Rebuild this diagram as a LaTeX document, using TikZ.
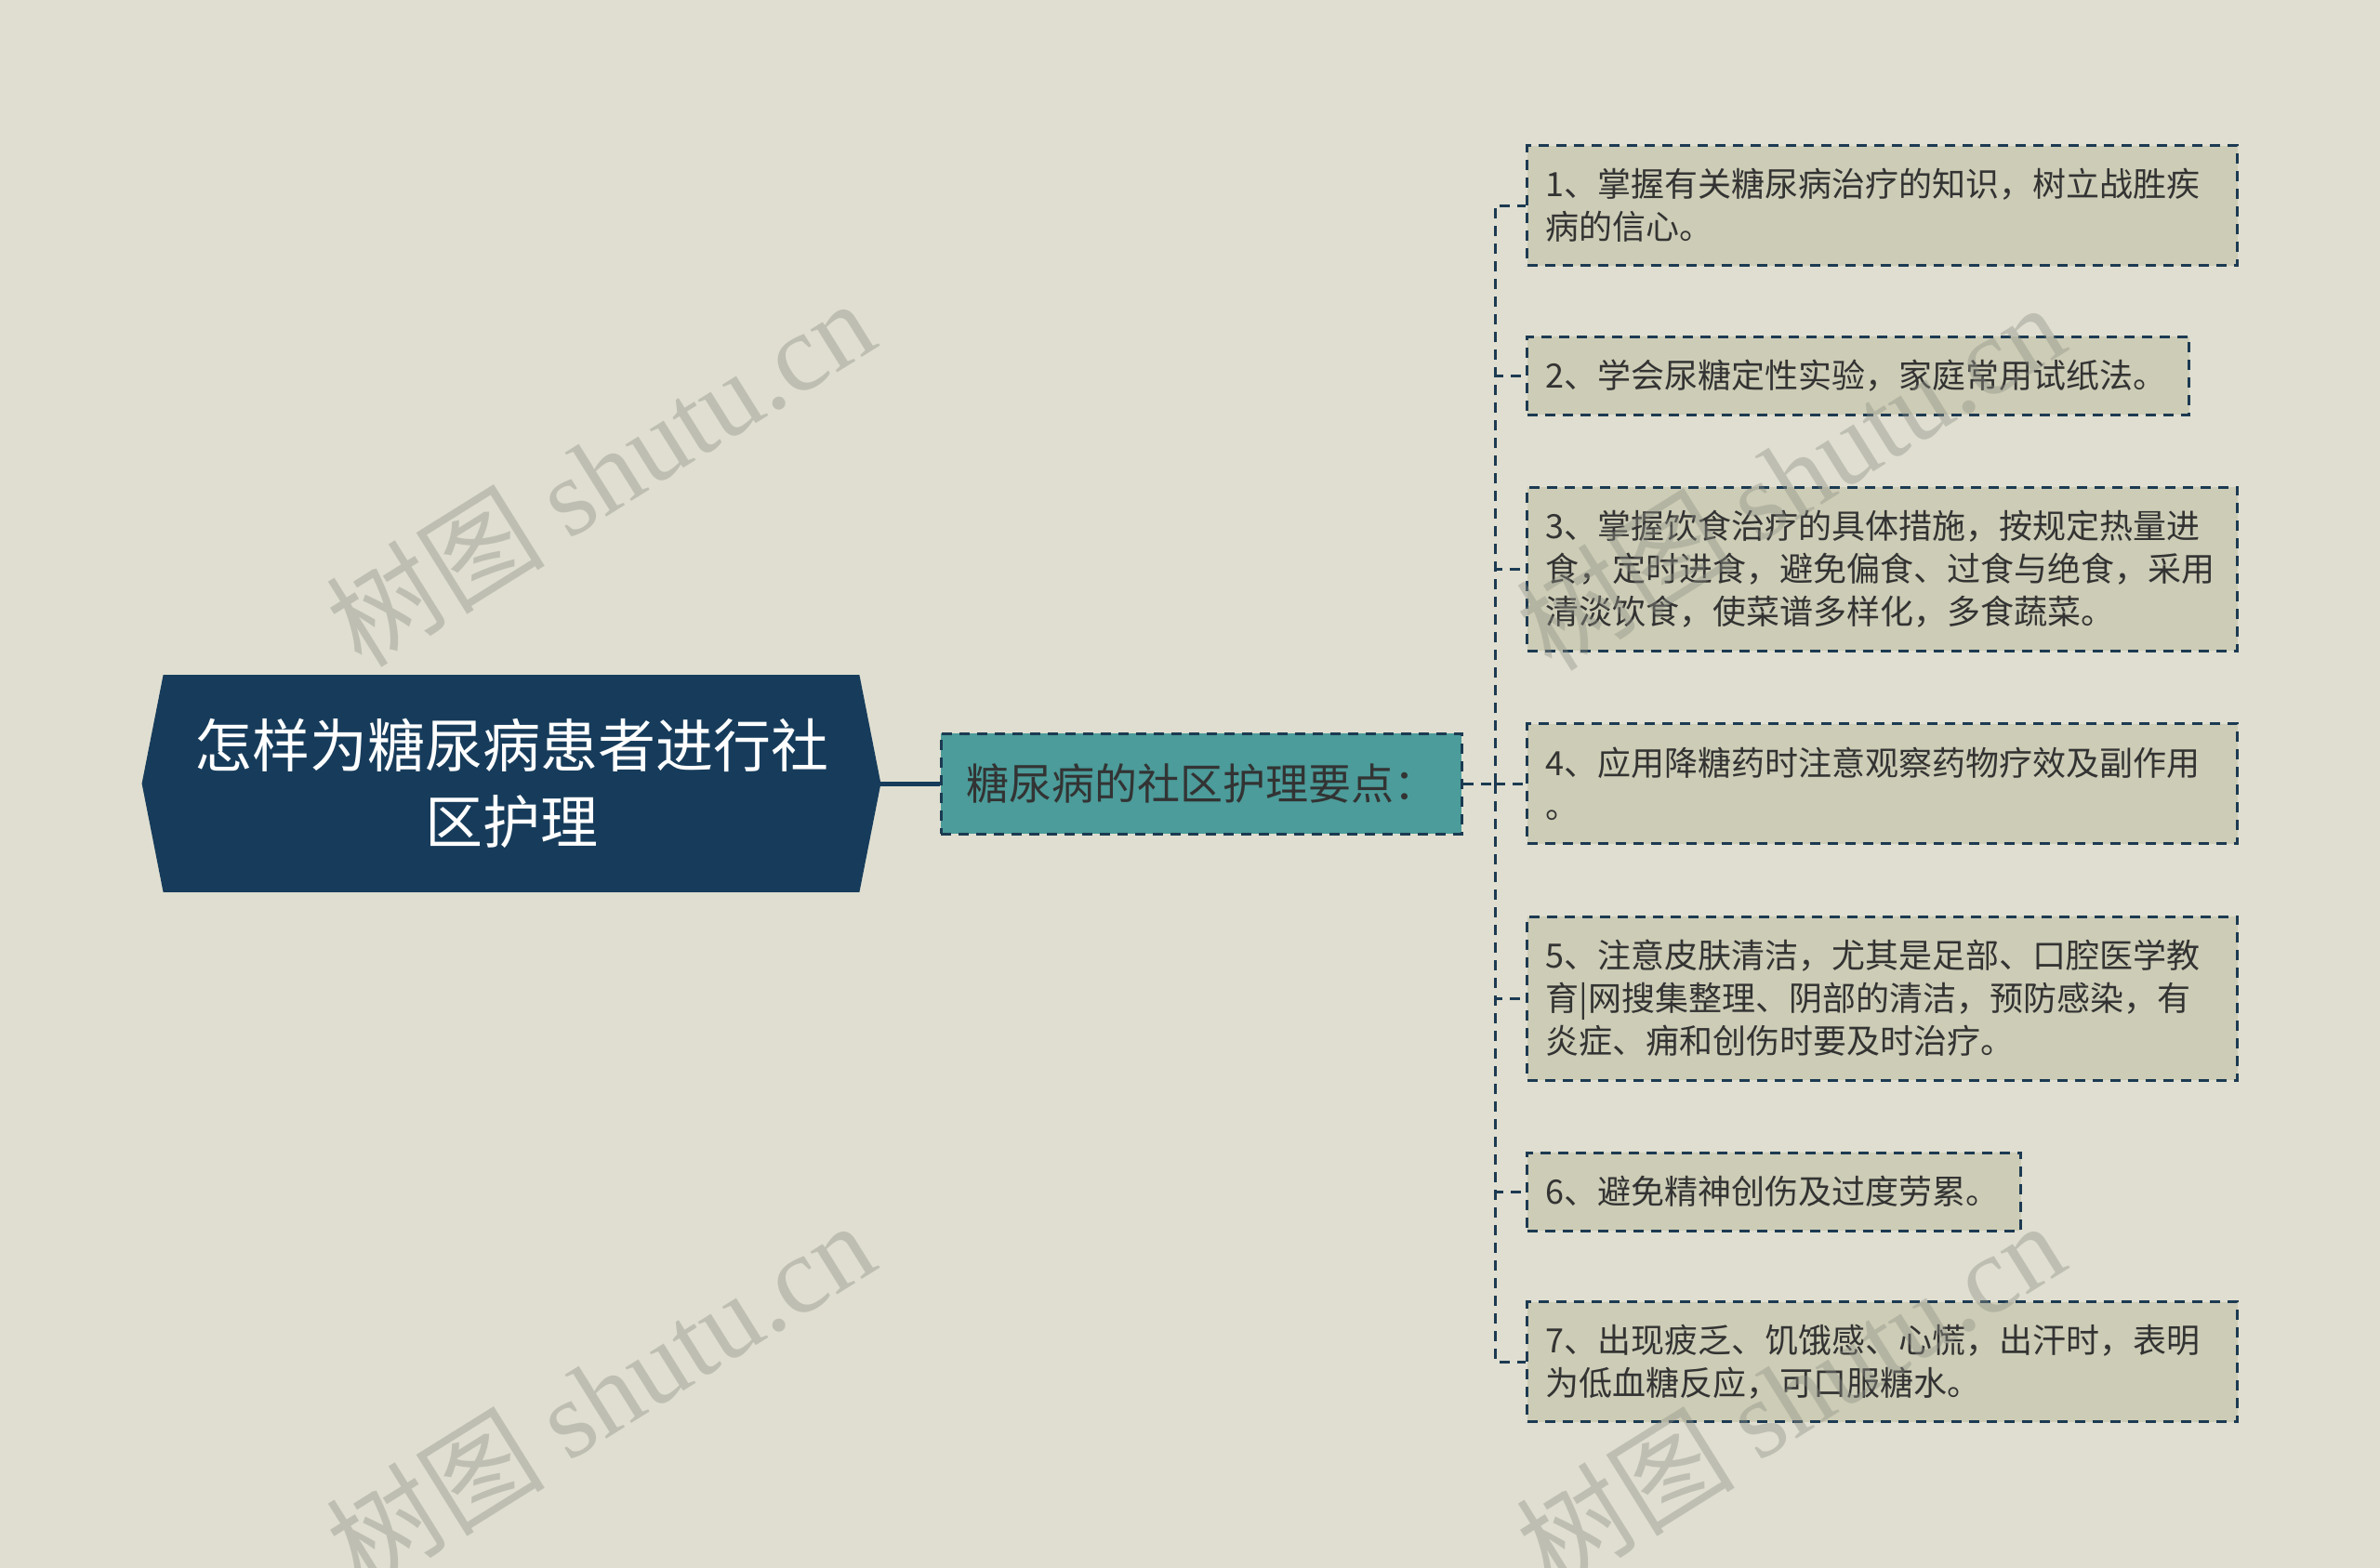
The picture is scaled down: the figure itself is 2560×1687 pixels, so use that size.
\documentclass[tikz,border=0pt]{standalone}
\usepackage{fontspec}
\setmainfont{Noto Sans CJK SC}
\newfontfamily\wmlatin{Liberation Serif}
\usetikzlibrary{backgrounds}

\definecolor{bgcol}{HTML}{DFDED0}
\definecolor{rootcol}{HTML}{173C5B}
\definecolor{midcol}{HTML}{4B9C9A}
\definecolor{leafcol}{HTML}{CDCCB6}
\definecolor{linecol}{HTML}{1C3A52}
\definecolor{textcol}{HTML}{333333}
\definecolor{wmcol}{HTML}{8E9086}

\begin{document}
\begin{tikzpicture}[
    x=0.5pt, y=-0.5pt,
    rootbox/.style={rectangle, minimum width=374pt, minimum height=116.5pt, inner sep=0pt, align=center, text=white, font=\fontsize{31}{41}\selectfont},
    midbox/.style={rectangle, draw=linecol, fill=midcol, line width=1.5pt, dash pattern=on 5.5pt off 4pt, minimum width=280pt, minimum height=54pt, inner sep=0pt, text=textcol, font=\fontsize{23}{28}\selectfont},
    leafbox/.style={rectangle, draw=linecol, fill=leafcol, line width=1.5pt, dash pattern=on 5.5pt off 4pt, anchor=west, inner xsep=10pt, inner ysep=0pt, text width=362pt, align=left, text=textcol, font=\fontsize{18}{23}\selectfont},
    link/.style={draw=linecol, line width=1.5pt, dash pattern=on 5.5pt off 4pt},
    wmark/.style={rotate=32, text=wmcol, text opacity=0.4, font=\fontsize{59}{59}\selectfont}
]

% Canvas
\useasboundingbox (0,0) rectangle (2560,1687);

% Root
\node[rootbox] (root) at (550,843) {怎样为糖尿病患者进行社\\区护理};

% Middle
\node[midbox] (mid) at (1292,843) {糖尿病的社区护理要点：};

% Leaves
\node[leafbox, minimum height=64.5pt] (leaf1) at (1641,221) {1、掌握有关糖尿病治疗的知识，树立战胜疾\\病的信心。};
\node[leafbox, minimum height=42pt, text width=336pt] (leaf2) at (1641,404) {2、学会尿糖定性实验，家庭常用试纸法。};
\node[leafbox, minimum height=88pt] (leaf3) at (1641,612) {3、掌握饮食治疗的具体措施，按规定热量进\\食，定时进食，避免偏食、过食与绝食，采用\\清淡饮食，使菜谱多样化，多食蔬菜。};
\node[leafbox, minimum height=64.5pt] (leaf4) at (1641,843) {4、应用降糖药时注意观察药物疗效及副作用\\。};
\node[leafbox, minimum height=88pt] (leaf5) at (1641,1074) {5、注意皮肤清洁，尤其是足部、口腔医学教\\育|网搜集整理、阴部的清洁，预防感染，有\\炎症、痈和创伤时要及时治疗。};
\node[leafbox, minimum height=42pt, text width=245.5pt] (leaf6) at (1641,1282) {6、避免精神创伤及过度劳累。};
\node[leafbox, minimum height=64.5pt] (leaf7) at (1641,1465) {7、出现疲乏、饥饿感、心慌，出汗时，表明\\为低血糖反应，可口服糖水。};

% Background and root shape
\begin{scope}[on background layer]
\fill[bgcol] (0,0) rectangle (2560,1687);
\fill[rootcol] (root.north west) -- (root.north east) -- ([xshift=11.5pt]root.east) -- (root.south east) -- (root.south west) -- ([xshift=-11.5pt]root.west) -- cycle;
\end{scope}

% Connectors
\coordinate (fork) at (1608,843);
\draw[draw=rootcol, line width=2.5pt] ([xshift=11.5pt]root.east) -- (mid.west);
\draw[link] (mid.east) -- (fork);
\foreach \i in {1,...,7}
    \draw[link] (fork) |- (leaf\i.west);

% Watermarks
\node[wmark] (wm1) at (645,508) {树图 {\wmlatin shutu.cn}};
\node[wmark] (wm2) at (645,1500) {树图 {\wmlatin shutu.cn}};
\node[wmark] (wm3) at (1925,512) {树图 {\wmlatin shutu.cn}};
\node[wmark] (wm4) at (1925,1500) {树图 {\wmlatin shutu.cn}};

\end{tikzpicture}
\end{document}
